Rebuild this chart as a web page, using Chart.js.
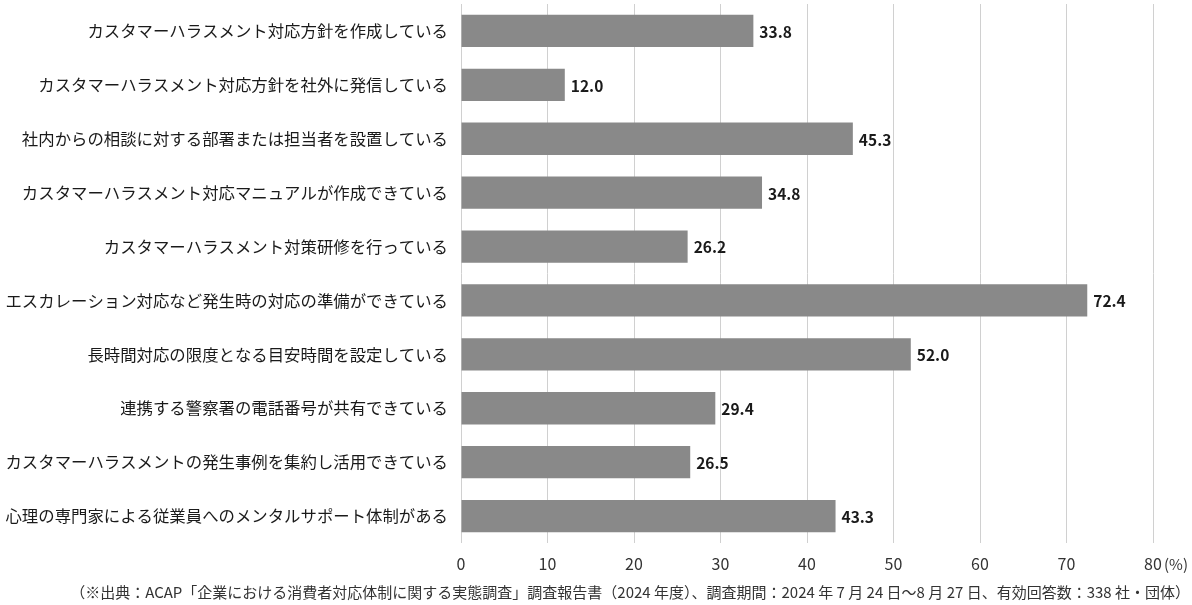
<!DOCTYPE html>
<html lang="ja">
<head>
<meta charset="utf-8">
<script src="https://cdn.jsdelivr.net/npm/chart.js@4"></script>
<style>
  html, body { margin: 0; padding: 0; background: #fff; }
  #wrap { width: 1192px; height: 605px; position: relative; }
</style>
</head>
<body>
<div id="wrap"><canvas id="chart"></canvas></div>
<script>
// データ
const categories = [
    "カスタマーハラスメント対応方針を作成している",
    "カスタマーハラスメント対応方針を社外に発信している",
    "社内からの相談に対する部署または担当者を設置している",
    "カスタマーハラスメント対応マニュアルが作成できている",
    "カスタマーハラスメント対策研修を行っている",
    "エスカレーション対応など発生時の対応の準備ができている",
    "長時間対応の限度となる目安時間を設定している",
    "連携する警察署の電話番号が共有できている",
    "カスタマーハラスメントの発生事例を集約し活用できている",
    "心理の専門家による従業員へのメンタルサポート体制がある"
];
const values = [33.8, 12.0, 45.3, 34.8, 26.2, 72.4, 52.0, 29.4, 26.5, 43.3];
const xTicks = [0, 10, 20, 30, 40, 50, 60, 70, 80];
const unitLabel = "(%)";
const footnote = "（※出典：ACAP「企業における消費者対応体制に関する実態調査」調査報告書（2024 年度）、調査期間：2024 年 7 月 24 日～8 月 27 日、有効回答数：338 社・団体）";

const FONT = "'Noto Sans CJK JP', 'Noto Sans', sans-serif";

// 値ラベル・単位・出典
const extraText = {
    id: "extraText",
    afterDatasetsDraw(chart) {
        const ctx = chart.ctx;
        const meta = chart.getDatasetMeta(0);
        ctx.save();
        ctx.font = "bold 15.5px " + FONT;
        ctx.fillStyle = "#1a1a1a";
        ctx.textAlign = "left";
        ctx.textBaseline = "middle";
        meta.data.forEach(function (bar, i) {
            ctx.fillText(values[i].toFixed(1), bar.x + 6, bar.y + 1);
        });

        const xs = chart.scales.x;
        ctx.font = "15px " + FONT;
        ctx.fillStyle = "#333";
        ctx.fillText(unitLabel, xs.getPixelForValue(80) + 11, 564);

        ctx.font = "15px " + FONT;
        ctx.textAlign = "right";
        ctx.fillText(footnote, 1190, 592);
        ctx.restore();
    }
};

new Chart(document.getElementById("chart"), {
    type: "bar",
    data: {
        labels: categories,
        datasets: [{
            data: values,
            backgroundColor: "#898989",
            borderWidth: 0,
            barPercentage: 0.6,
            categoryPercentage: 1.0
        }]
    },
    options: {
        indexAxis: "y",
        responsive: true,
        maintainAspectRatio: false,
        animation: false,
        layout: { padding: { top: 4, right: 39, bottom: 30, left: 0 } },
        scales: {
            x: {
                min: 0,
                max: 80,
                afterBuildTicks: function (axis) {
                    axis.ticks = xTicks.map(function (v) { return { value: v }; });
                },
                afterFit: function (axis) { axis.height = 32; },
                grid: { color: "#d0d0d0", lineWidth: 1, drawTicks: false },
                border: { display: false },
                ticks: { color: "#333", padding: 11, font: { size: 16, family: FONT } }
            },
            y: {
                afterFit: function (axis) {
                    axis.width = 461;
                    axis.paddingTop = 0;
                    axis.paddingBottom = 0;
                },
                grid: { display: false, drawTicks: false },
                border: { display: false },
                ticks: { color: "#1a1a1a", padding: 13, font: { size: 16.4, family: FONT } }
            }
        },
        plugins: {
            legend: { display: false },
            tooltip: { enabled: false }
        }
    },
    plugins: [extraText]
});
</script>
</body>
</html>
